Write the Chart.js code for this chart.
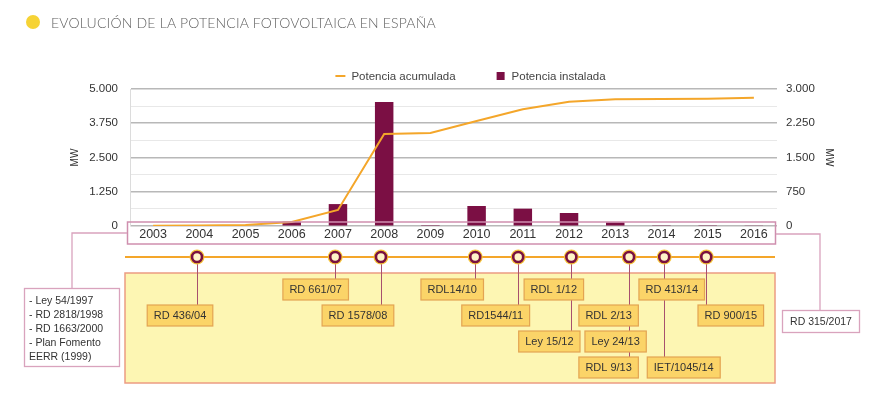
<!DOCTYPE html>
<html><head><meta charset="utf-8">
<script src="https://cdn.jsdelivr.net/npm/chart.js@4.4.1/dist/chart.umd.min.js"></script>
<style>
html,body{margin:0;padding:0;background:#fff;}
#wrap{position:relative;width:889px;height:415px;overflow:hidden;}
#title{position:absolute;left:26px;top:13px;height:18px;font-family:Lato,'Open Sans',sans-serif;font-weight:300;font-size:14px;letter-spacing:0.2px;color:#5f5f5f;display:flex;align-items:center;white-space:nowrap;}
#title .dot{width:14px;height:14px;border-radius:50%;background:#f6d335;margin-right:11px;display:inline-block;}
canvas{position:absolute;left:0;top:0;}
</style></head>
<body><div id="wrap"><canvas id="c" width="889" height="415"></canvas><div id="title"><span class="dot"></span><span>EVOLUCIÓN DE LA POTENCIA FOTOVOLTAICA EN ESPAÑA</span></div></div>
<script>
// ---- data ----
const years = ['2003','2004','2005','2006','2007','2008','2009','2010','2011','2012','2013','2014','2015','2016'];
const potenciaAcumulada = [10, 20, 40, 150, 584, 3358, 3394, 3832, 4260, 4536, 4624, 4632, 4645, 4682];
const potenciaInstalada = [0, 0, 0, 94, 480, 2715, 20, 438, 380, 285, 80, 4, 4, 15];
const leftTicks = [0, 1250, 2500, 3750, 5000];
const rightTicks = [0, 750, 1500, 2250, 3000];
// regulations on the timeline (label and approximate date in years)
const normas = ['RD 436/04','RD 661/07','RD 1578/08','RDL14/10','RD1544/11','RDL 1/12','Ley 15/12','RDL 2/13','Ley 24/13','RDL 9/13','RD 413/14','IET/1045/14','RD 900/15'];
const normaFecha = [2003.95, 2006.94, 2007.93, 2009.97, 2010.9, 2012.05, 2012.05, 2013.3, 2013.3, 2013.3, 2014.06, 2014.06, 2014.97];
const normasPrevias = ['- Ley 54/1997','- RD 2818/1998','- RD 1663/2000','- Plan Fomento','EERR (1999)'];
const normaPosterior = 'RD 315/2017';

// ---- layout / style of the annotation boxes (not data) ----
const boxRow = [1,0,1,0,1,0,2,1,2,3,0,3,1];
const boxShift = [-17,-19.5,-23,-23,-22.5,-17.5,-22,-20.5,-13.5,-20.5,7.5,19.5,24.5];

const FONT = '"Liberation Sans", Arial, sans-serif';
const fmt = v => String(v).replace(/\B(?=(\d{3})+(?!\d))/g, '.');

const annot = {
  id: 'annot',
  afterDatasetsDraw(chart) {
    const {ctx, chartArea: a} = chart;
    ctx.save();
    ctx.strokeStyle = '#cf8fae';
    ctx.lineWidth = 1.5;
    ctx.strokeRect(a.left - 2.5, a.bottom - 4, a.right - a.left + 1, 22);
    ctx.restore();
  },
  afterDraw(chart) {
    const {ctx, chartArea: a, scales: {x}} = chart;
    const b = a.bottom;
    const xOf = yr => x.getPixelForValue(yr - 2003);
    ctx.save();
    // ---- legend ----
    ctx.font = '11.5px ' + FONT;
    ctx.textBaseline = 'middle';
    const ds = chart.data.datasets;
    const items = ds.map(d => ({d, w: 10 + 6 + ctx.measureText(d.label).width}));
    const gap = 40;
    const total = items.reduce((s, it) => s + it.w, 0) + gap * (items.length - 1);
    let lx = (a.left + a.right) / 2 + 17 - total / 2;
    const ly = a.top - 13;
    items.forEach(it => {
      if (it.d.type === 'line') {
        ctx.strokeStyle = it.d.borderColor; ctx.lineWidth = 2;
        ctx.beginPath(); ctx.moveTo(lx, ly); ctx.lineTo(lx + 10, ly); ctx.stroke();
      } else {
        ctx.fillStyle = it.d.backgroundColor;
        ctx.fillRect(lx + 1, ly - 4, 8, 8);
      }
      ctx.fillStyle = '#444';
      ctx.textAlign = 'left';
      ctx.fillText(it.d.label, lx + 16, ly + 0.5);
      lx += it.w + gap;
    });

    // ---- left & right notes ----
    ctx.strokeStyle = '#d9a3bd'; ctx.lineWidth = 1.3;
    const midX = b + 7;
    ctx.beginPath(); ctx.moveTo(a.left - 3, midX); ctx.lineTo(72, midX); ctx.lineTo(72, b + 62); ctx.stroke();
    ctx.beginPath(); ctx.moveTo(a.right - 1, midX + 1); ctx.lineTo(820, midX + 1); ctx.lineTo(820, b + 84); ctx.stroke();
    ctx.fillStyle = '#fff';
    ctx.fillRect(24.5, b + 62.5, 95, 78);
    ctx.strokeRect(24.5, b + 62.5, 95, 78);
    ctx.fillStyle = '#333';
    ctx.font = '10.5px ' + FONT;
    ctx.textAlign = 'left';
    normasPrevias.forEach((t, i) => ctx.fillText(t, 29, b + 75 + i * 14));
    ctx.fillStyle = '#fff';
    ctx.fillRect(782.5, b + 84.5, 77, 22);
    ctx.strokeRect(782.5, b + 84.5, 77, 22);
    ctx.fillStyle = '#333';
    ctx.textAlign = 'center';
    ctx.fillText(normaPosterior, 821, b + 96);

    // ---- timeline ----
    const ty = b + 31;
    ctx.strokeStyle = '#f4a62a'; ctx.lineWidth = 2.2;
    ctx.beginPath(); ctx.moveTo(a.left - 5, ty); ctx.lineTo(a.right - 2, ty); ctx.stroke();
    // yellow band
    ctx.fillStyle = '#fdf6b3';
    ctx.strokeStyle = '#ec9c82'; ctx.lineWidth = 1.5;
    ctx.fillRect(a.left - 5, b + 47, a.right - a.left + 3, 110);
    ctx.strokeRect(a.left - 5, b + 47, a.right - a.left + 3, 110);
    // connectors
    ctx.strokeStyle = '#a8506e'; ctx.lineWidth = 1;
    normas.forEach((n, i) => {
      const cx = Math.round(xOf(normaFecha[i])) + 0.5;
      ctx.beginPath(); ctx.moveTo(cx, ty); ctx.lineTo(cx, b + 53 + boxRow[i] * 26); ctx.stroke();
    });
    // boxes
    ctx.font = '11px ' + FONT;
    normas.forEach((n, i) => {
      const cx = xOf(normaFecha[i]) + boxShift[i];
      const w = ctx.measureText(n).width + 13;
      const top = b + 53 + boxRow[i] * 26;
      ctx.fillStyle = '#fbd468';
      ctx.strokeStyle = '#e3a452'; ctx.lineWidth = 1.2;
      ctx.fillRect(cx - w / 2, top, w, 21);
      ctx.strokeRect(cx - w / 2, top, w, 21);
      ctx.fillStyle = '#333';
      ctx.textAlign = 'center';
      ctx.fillText(n, cx, top + 11);
    });
    // markers
    [...new Set(normaFecha)].forEach(f => {
      const cx = xOf(f);
      ctx.beginPath(); ctx.arc(cx, ty, 7.5, 0, Math.PI * 2);
      ctx.fillStyle = '#f6c53c'; ctx.fill();
      ctx.beginPath(); ctx.arc(cx, ty, 5, 0, Math.PI * 2);
      ctx.fillStyle = '#fff4c8'; ctx.fill();
      ctx.strokeStyle = '#7a1140'; ctx.lineWidth = 2.6; ctx.stroke();
    });
    ctx.restore();
  }
};

new Chart(document.getElementById('c'), {
  data: {
    labels: years,
    datasets: [
      {type: 'line', label: 'Potencia acumulada', data: potenciaAcumulada, yAxisID: 'y',
       borderColor: '#f4a62a', backgroundColor: '#f4a62a', borderWidth: 2, pointRadius: 0, tension: 0, order: 0},
      {type: 'bar', label: 'Potencia instalada', data: potenciaInstalada, yAxisID: 'y1',
       backgroundColor: '#7b0f44', barPercentage: 0.4, categoryPercentage: 1, order: 1}
    ]
  },
  options: {
    responsive: false,
    animation: false,
    devicePixelRatio: 1,
    layout: {padding: {left: 61, right: 10, top: 89, bottom: 169}},
    plugins: {legend: {display: false}, tooltip: {enabled: false}},
    scales: {
      x: {
        grid: {display: false, drawTicks: false}, border: {display: false},
        ticks: {font: {family: FONT, size: 12.5}, color: '#333', padding: 1, maxRotation: 0, autoSkip: false},
        afterFit: s => { s.height = 20; }
      },
      y: {
        position: 'left', min: 0, max: 5000,
        afterBuildTicks: s => {
          const t = [];
          for (let i = 0; i < leftTicks.length; i++) {
            t.push({value: leftTicks[i]});
            if (i < leftTicks.length - 1) t.push({value: (leftTicks[i] + leftTicks[i + 1]) / 2, minor: true});
          }
          s.ticks = t;
        },
        ticks: {font: {family: FONT, size: 11.5}, color: '#333', padding: 12, autoSkip: false,
                callback: v => leftTicks.includes(v) ? fmt(v) : ''},
        grid: {drawTicks: false,
               color: c => leftTicks.includes(c.tick.value) ? '#b8b8b8' : '#e8e8e8',
               lineWidth: c => leftTicks.includes(c.tick.value) ? 1.6 : 1},
        border: {display: true, color: '#dcdcdc', width: 1},
        title: {display: true, text: 'MW', font: {family: FONT, size: 10}, color: '#333', padding: {top: 8, bottom: 0}},
        afterFit: s => { s.width = 69; }
      },
      y1: {
        position: 'right', min: 0, max: 3000,
        afterBuildTicks: s => { s.ticks = rightTicks.map(v => ({value: v})); },
        ticks: {font: {family: FONT, size: 11.5}, color: '#333', padding: 9, autoSkip: false, callback: v => fmt(v)},
        grid: {drawOnChartArea: false, drawTicks: false},
        border: {display: false},
        title: {display: true, text: 'MW', font: {family: FONT, size: 10}, color: '#333', padding: {top: 44, bottom: 0}},
        afterFit: s => { s.width = 102; }
      }
    }
  },
  plugins: [annot]
});
</script>
</body></html>
